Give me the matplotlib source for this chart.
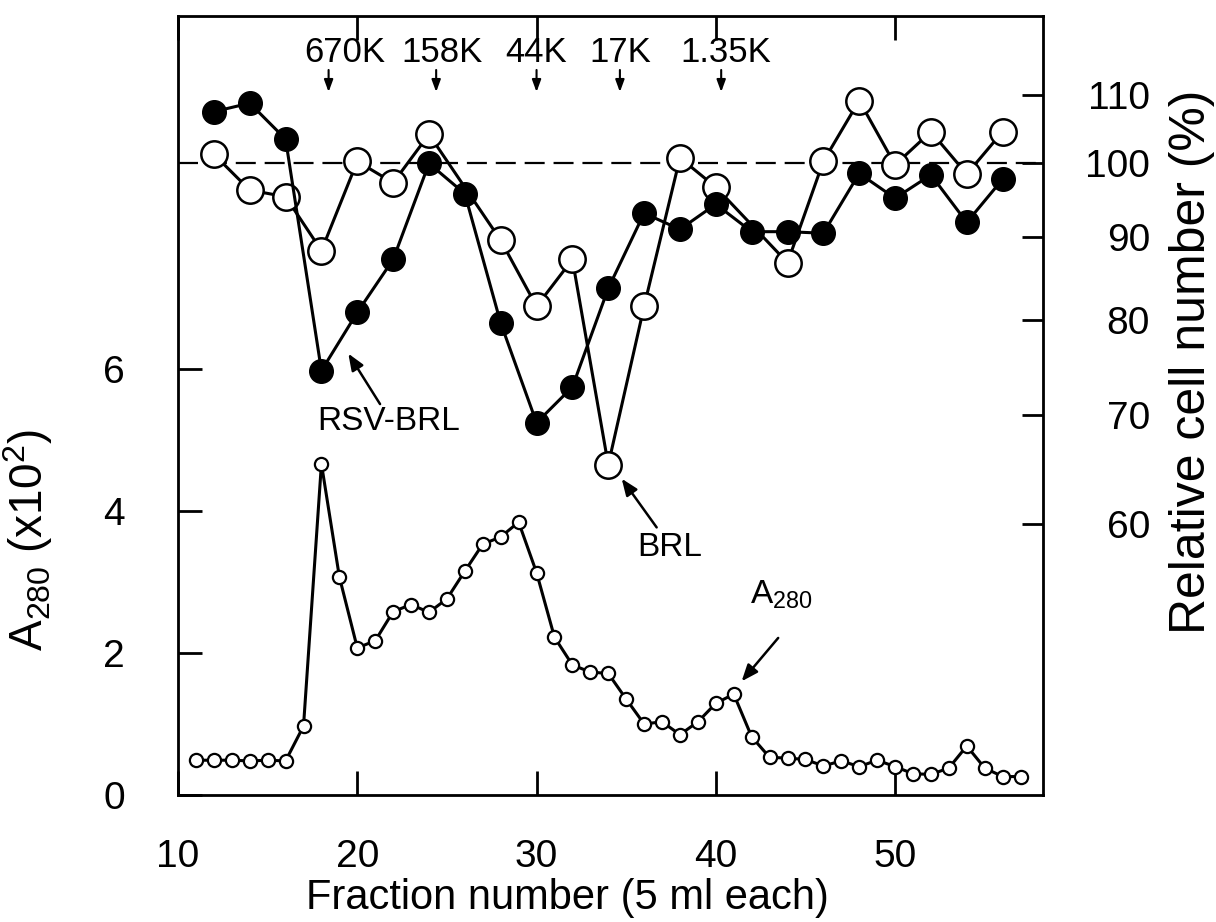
import matplotlib
matplotlib.use('Agg')
import matplotlib.pyplot as plt
from matplotlib.ticker import NullLocator, FixedLocator, FixedFormatter

# A280 of every fraction (left axis, x10^2)
fractions_a280 = list(range(11, 58))
a280 = [0.49, 0.49, 0.49, 0.48, 0.49, 0.48, 0.97, 4.66, 3.07, 2.07,
        2.17, 2.58, 2.68, 2.57, 2.76, 3.15, 3.53, 3.63, 3.84, 3.13,
        2.22, 1.83, 1.73, 1.71, 1.35, 1.00, 1.03, 0.85, 1.03, 1.29,
        1.42, 0.82, 0.53, 0.52, 0.50, 0.41, 0.48, 0.40, 0.49, 0.40,
        0.30, 0.29, 0.38, 0.69, 0.38, 0.26, 0.26]

# relative cell number (%) (right axis)
fractions_rsv = list(range(12, 57, 2))
rsv_brl = [107.5, 108.8, 103.4, 74.5, 80.9, 87.2, 99.9, 95.7, 79.7, 69.2,
           72.8, 83.7, 93.1, 91.0, 94.3, 90.7, 90.7, 90.5, 98.5, 95.1,
           98.3, 91.9, 97.7]
fractions_brl = [12, 14, 16, 18, 20, 22, 24, 28, 30, 32, 34, 36, 38, 40,
                 44, 46, 48, 50, 52, 54, 56]
brl = [101.2, 96.2, 95.3, 88.3, 100.2, 97.2, 104.1, 89.6, 81.6, 87.2,
       65.2, 81.6, 100.7, 96.6, 86.8, 100.2, 109.2, 99.7, 104.5, 98.4,
       104.5]

# molecular weight markers
mw_labels = ['670K', '158K', '44K', '17K', '1.35K']
mw_fractions = [18.4, 24.4, 30.0, 34.65, 40.3]

left_ticks = [0, 2, 4, 6]
right_ticks = [60, 70, 80, 90, 100, 110]
x_ticks = [10, 20, 30, 40, 50]

plt.rcParams['font.family'] = ['Liberation Sans', 'DejaVu Sans']
plt.rcParams['mathtext.default'] = 'regular'

fig = plt.figure(figsize=(12.16, 9.22), dpi=100)
ax = fig.add_axes([0.1464, 0.1377, 0.7113, 0.845])

ax.plot(fractions_a280, a280, '-o', color='k', lw=2.2, ms=9.5,
        mfc='white', mec='k', mew=1.6, zorder=3)

ax.set_xlim(10, 58.25)
ax.set_ylim(0, 10.96)
ax.set_xticks(x_ticks)
ax.set_yticks(left_ticks)
ax.tick_params(axis='both', direction='in', length=17, width=2, labelsize=28)
ax.tick_params(axis='y', pad=38)
ax.tick_params(axis='x', top=True, pad=32)
for s in ax.spines.values():
    s.set_linewidth(2)

ax.set_xlabel('Fraction number (5 ml each)', fontsize=30)
ax.xaxis.set_label_coords(0.45, -0.106)
ax.set_ylabel(r'A$_{280}$ (x10$^{2}$)', fontsize=33)
ax.yaxis.set_label_coords(-0.142, 0.327)

# right axis, log scaled
ax2 = ax.twinx()
ax2.set_yscale('log')
ax2.set_ylim(40.85, 123.1)
ax2.yaxis.set_major_locator(FixedLocator(right_ticks))
ax2.yaxis.set_major_formatter(FixedFormatter([str(t) for t in right_ticks]))
ax2.yaxis.set_minor_locator(NullLocator())
ax2.tick_params(axis='y', direction='in', length=15, width=2, labelsize=28, pad=77)
for t in ax2.get_yticklabels():
    t.set_ha('right')
ax2.set_ylabel('Relative cell number (%)', fontsize=36)
ax2.yaxis.set_label_coords(1.146, 0.556)

ax2.axhline(100, color='k', lw=1.6, ls=(0, (9, 4)), zorder=1)
ax2.plot(fractions_brl, brl, '-o', color='k', lw=2.2, ms=19,
         mfc='white', mec='k', mew=1.8, zorder=3)
ax2.plot(fractions_rsv, rsv_brl, '-o', color='k', lw=2.2, ms=17,
         mfc='k', mec='k', zorder=4)

# molecular weight markers
text_shift = [0.9, 0.3, 0.0, 0.0, 0.25]
small_arrow = dict(arrowstyle='-|>,head_length=0.6,head_width=0.22',
                   color='k', lw=1.5, mutation_scale=12, shrinkA=0, shrinkB=0)
for lab, fx, dx in zip(mw_labels, mw_fractions, text_shift):
    ax.annotate('', xy=(fx, 9.89), xytext=(fx, 10.2), arrowprops=small_arrow)
    ax.text(fx + dx, 10.44, lab, fontsize=25, ha='center', va='center')

big_arrow = dict(arrowstyle='-|>,head_length=0.5,head_width=0.2',
                 color='k', lw=1.8, mutation_scale=20, shrinkA=0, shrinkB=0)
ax.annotate('', xy=(19.5, 6.21), xytext=(21.27, 5.5), arrowprops=big_arrow)
ax.text(21.77, 5.26, 'RSV-BRL', fontsize=24, ha='center', va='center')
ax.annotate('', xy=(34.75, 4.45), xytext=(36.7, 3.765), arrowprops=big_arrow)
ax.text(37.44, 3.48, 'BRL', fontsize=24, ha='center', va='center')
ax.annotate('', xy=(41.44, 1.6), xytext=(43.48, 2.21), arrowprops=big_arrow)
ax.text(43.63, 2.82, r'A$_{280}$', fontsize=24, ha='center', va='center')

fig.savefig('out.png', dpi=100)
